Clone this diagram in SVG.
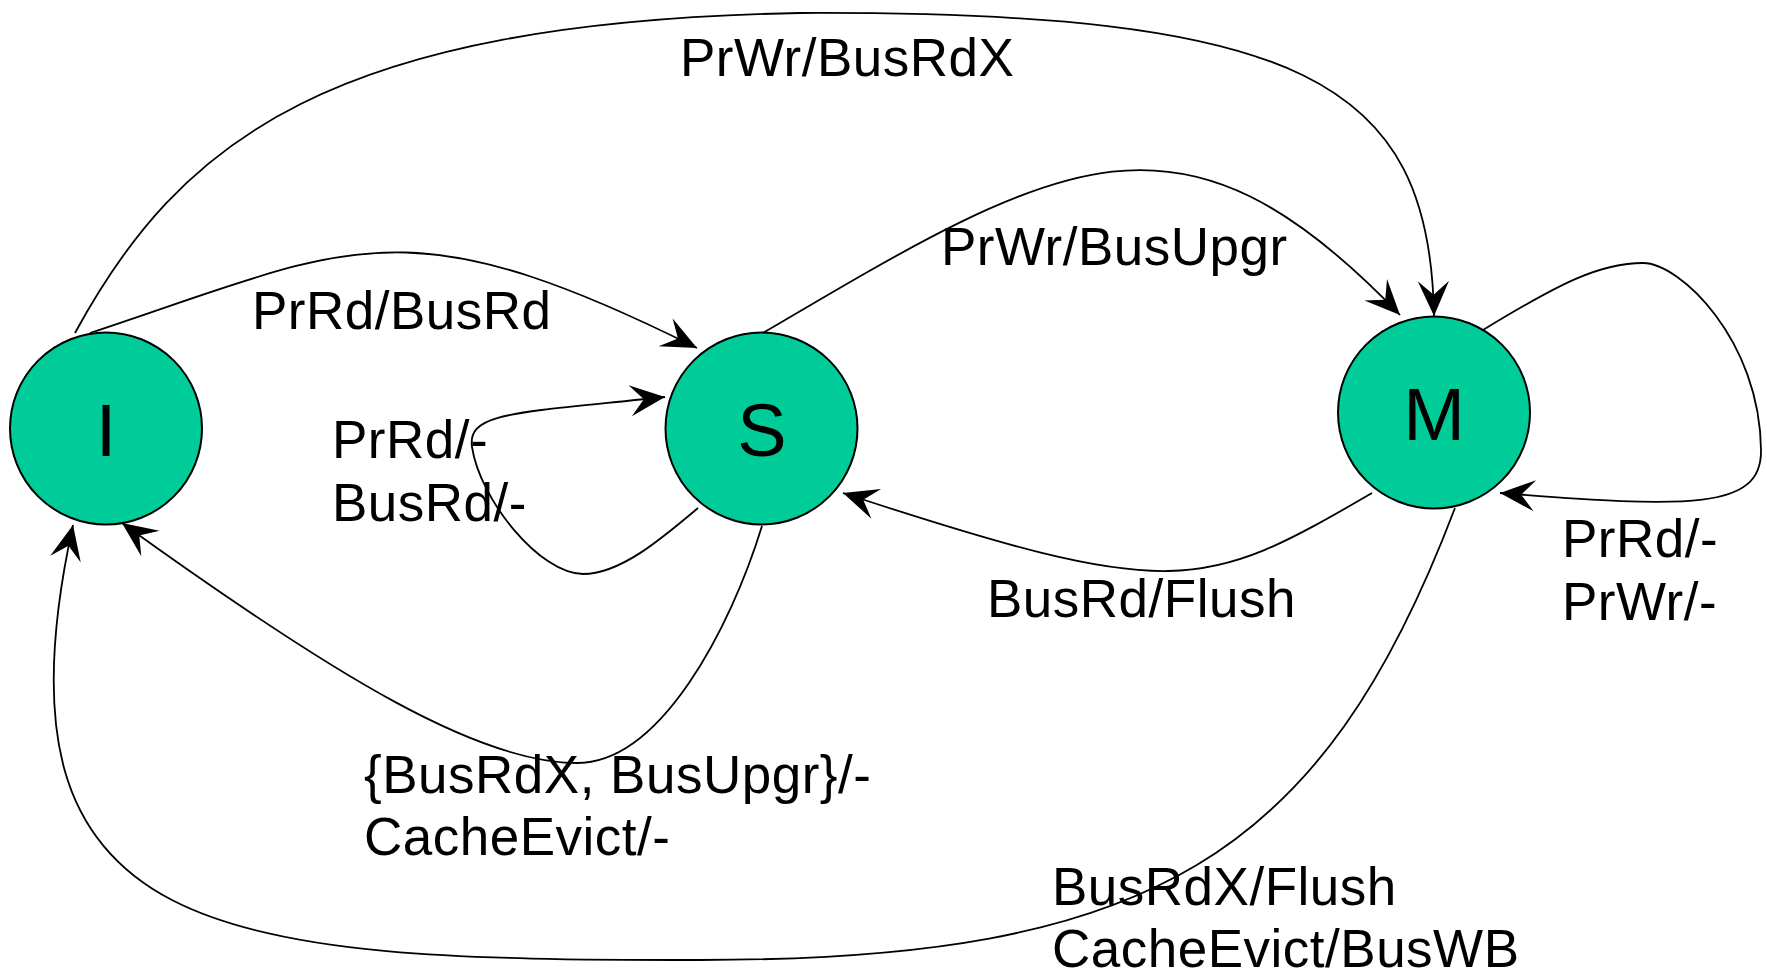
<svg xmlns="http://www.w3.org/2000/svg" width="1767" height="976" viewBox="0 0 1767 976">
  <style>
    .state { fill: #00CC99; stroke: #000; stroke-width: 2; }
    .state-label { font-family: "Liberation Sans", Arial, sans-serif; font-size: 74px; fill: #000; text-anchor: middle; }
    .edge { fill: none; stroke: #000; stroke-width: 1.8; marker-end: url(#arrow); }
    .edge-label { font-family: "Liberation Sans", Arial, sans-serif; font-size: 53px; letter-spacing: 0.5px; fill: #000; }
  </style>
  <defs>
    <marker id="arrow" markerUnits="userSpaceOnUse" markerWidth="40" markerHeight="40" viewBox="-30 -15 32 30" refX="0" refY="0" orient="auto">
      <path d="M0,0 L-28,-12.5 L-17,0 L-28,12.5 Z" fill="#000"/>
    </marker>
  </defs>

  <rect width="1767" height="976" fill="#fff"/>

  <!-- states -->
  <g id="state-I">
    <circle class="state" cx="106" cy="428.5" r="96"/>
    <text class="state-label" x="106" y="456">I</text>
  </g>
  <g id="state-S">
    <circle class="state" cx="761.5" cy="428.5" r="96"/>
    <text class="state-label" x="762" y="456">S</text>
  </g>
  <g id="state-M">
    <circle class="state" cx="1434" cy="412.5" r="96"/>
    <text class="state-label" x="1434" y="440">M</text>
  </g>

  <!-- transitions -->
  <g id="connectors">
    <!-- I -> M : PrWr/BusRdX -->
    <path class="edge" d="M75,333 C180,140 330,22 800,13 C1300,11 1430,80 1434,316"/>
    <!-- I -> S : PrRd/BusRd -->
    <path class="edge" d="M90,333 C350,247 400,200 697,348"/>
    <!-- S -> M : PrWr/BusUpgr -->
    <path class="edge" d="M763,333 C1063,156 1180,86 1400,315"/>
    <!-- M -> S : BusRd/Flush -->
    <path class="edge" d="M1372,493 C1202,592 1175,602 843,493"/>
    <!-- S -> S : PrRd/- BusRd/- -->
    <path class="edge" d="M698,508 C660,540 620,574 583,574 C540,574 480,500 472,447 C467,412 515,413 665,397"/>
    <!-- M -> M : PrRd/- PrWr/- -->
    <path class="edge" d="M1483,330 C1560,283 1600,263 1643,263 C1680,263 1760,340 1761,450 C1762,510 1690,508 1500,493"/>
    <!-- S -> I : {BusRdX, BusUpgr}/- CacheEvict/- -->
    <path class="edge" d="M762,526 C730,630 660,763 577,763 C480,763 340,680 122,523"/>
    <!-- M -> I : BusRdX/Flush CacheEvict/BusWB -->
    <path class="edge" d="M1455,508 C1322,858 1150,960 700,960 C220,960 -19,945 73,525"/>
  </g>

  <!-- transition labels -->
  <g id="labels">
    <text class="edge-label" x="680" y="76">PrWr/BusRdX</text>
    <text class="edge-label" x="252" y="329">PrRd/BusRd</text>
    <text class="edge-label" x="941" y="265">PrWr/BusUpgr</text>
    <text class="edge-label" x="332" y="458">PrRd/-</text>
    <text class="edge-label" x="332" y="521">BusRd/-</text>
    <text class="edge-label" x="987" y="617">BusRd/Flush</text>
    <text class="edge-label" x="1562" y="557">PrRd/-</text>
    <text class="edge-label" x="1562" y="620">PrWr/-</text>
    <text class="edge-label" x="364" y="793">{BusRdX, BusUpgr}/-</text>
    <text class="edge-label" x="364" y="855">CacheEvict/-</text>
    <text class="edge-label" x="1052" y="905">BusRdX/Flush</text>
    <text class="edge-label" x="1052" y="967">CacheEvict/BusWB</text>
  </g>
</svg>
